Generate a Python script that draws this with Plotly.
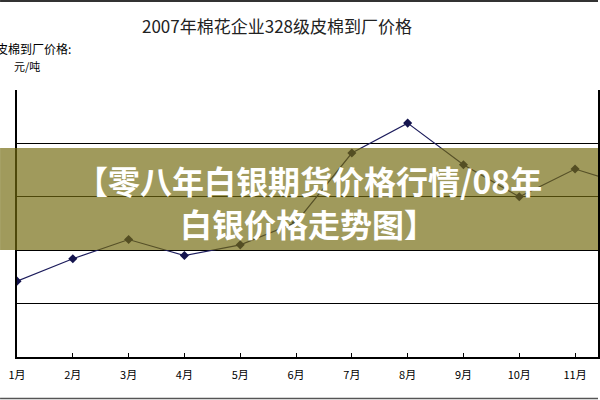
import plotly.graph_objects as go

months = ["1月", "2月", "3月", "4月", "5月", "6月", "7月", "8月", "9月", "10月", "11月", "12月"]
month_num = list(range(1, 13))
prices = [13210, 13420, 13600, 13450, 13550, 13760, 14410, 14690, 14300, 14000, 14260, 14100]

title_text = "2007年棉花企业328级皮棉到厂价格"
yaxis_label_1 = "皮棉到厂价格:"
yaxis_label_2 = "元/吨"
banner_line_1 = "【零八年白银期货价格行情/08年"
banner_line_2 = "白银价格走势图】"

W, H = 600, 400
L, R, T, B = 17, 0, 90, 43
PW, PH = W - L - R, H - T - B

def px_x(px):
    return (px - L) / PW

def px_y(py):
    return (H - B - py) / PH

CJK = "Noto Sans CJK SC, Noto Sans, sans-serif"

fig = go.Figure()
fig.add_trace(go.Scatter(
    x=month_num, y=prices, mode="lines+markers",
    line=dict(color="#1c1c5c", width=1.2),
    marker=dict(symbol="diamond", size=7, color="#14144e"),
    showlegend=False, hoverinfo="skip",
))

fig.update_layout(
    width=W, height=H,
    margin=dict(l=L, r=R, t=T, b=B, pad=0),
    paper_bgcolor="white", plot_bgcolor="white",
    title=dict(text=title_text, x=277 / W, xanchor="center", y=1 - 27 / H,
               yanchor="middle", font=dict(family=CJK, size=17, color="#222222")),
    xaxis=dict(range=[1, 1 + PW / 56.0], tickvals=month_num, ticktext=months,
               showgrid=False, zeroline=False, showline=True, linecolor="black",
               linewidth=1.5, ticks="inside", ticklen=4, tickcolor="black",
               tickfont=dict(family=CJK, size=11, color="black"),
               ticklabelstandoff=7),
    yaxis=dict(range=[12500, 15000], dtick=500, showticklabels=False,
               showgrid=True, gridcolor="black", gridwidth=1.2, zeroline=False,
               showline=True, linecolor="black", linewidth=1.5, mirror=True,
               ticks=""),
)

# banner overlay
fig.add_shape(type="rect", xref="paper", yref="paper",
              x0=px_x(0), x1=px_x(W), y0=px_y(250), y1=px_y(148),
              fillcolor="rgba(115,106,15,0.68)", line=dict(width=0), layer="above")
fig.add_annotation(text="<b>" + banner_line_1 + "</b>", xref="paper", yref="paper",
                   x=px_x(310), y=px_y(180), xanchor="center", yanchor="middle",
                   showarrow=False, font=dict(family=CJK, size=32, color="white"))
fig.add_annotation(text="<b>" + banner_line_2 + "</b>", xref="paper", yref="paper",
                   x=px_x(309), y=px_y(223), xanchor="center", yanchor="middle",
                   showarrow=False, font=dict(family=CJK, size=32, color="white"))

# y axis label (partly cut off at left, as in the reference)
fig.add_annotation(text=yaxis_label_1, xref="paper", yref="paper",
                   x=px_x(73), y=px_y(48), xanchor="right", yanchor="middle",
                   showarrow=False, font=dict(family=CJK, size=12, color="black"))
fig.add_annotation(text=yaxis_label_2, xref="paper", yref="paper",
                   x=px_x(27), y=px_y(66), xanchor="center", yanchor="middle",
                   showarrow=False, font=dict(family=CJK, size=11, color="black"))

# outer image border top/bottom
fig.add_shape(type="line", xref="paper", yref="paper", x0=px_x(0), x1=px_x(W),
              y0=px_y(1), y1=px_y(1), line=dict(color="#333333", width=2))
fig.add_shape(type="line", xref="paper", yref="paper", x0=px_x(0), x1=px_x(W),
              y0=px_y(398.5), y1=px_y(398.5), line=dict(color="#555555", width=1.5))

fig.write_html("out.html")
